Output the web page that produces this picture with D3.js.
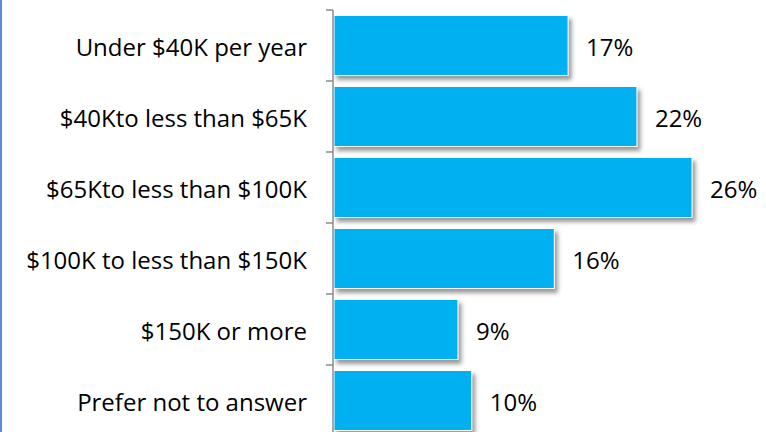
<!DOCTYPE html>
<html lang="en">
<head>
    <meta charset="UTF-8">
    <title>Income</title>
    <style>
        body { margin: 0; background: #fff; }
        text { font-family: "Open Sans", "Noto Sans", sans-serif; }
    </style>
</head>
<body>
    <script src="https://d3js.org/d3.v7.min.js"></script>
    <div id="my_dataviz"></div>
    <script>

        // Data
        var categories = ["Under $40K per year", "$40Kto less than $65K", "$65Kto less than $100K",
            "$100K to less than $150K", "$150K or more", "Prefer not to answer"]
        var values = [17, 22, 26, 16, 9, 10]

        var width = 766
        var height = 432

        var svg = d3.select("#my_dataviz")
            .append("svg")
            .attr("width", width)
            .attr("height", height)

        // shadow under the bars
        var defs = svg.append("defs")
        defs.append("filter")
            .attr("id", "shadow")
            .attr("x", "-10%").attr("y", "-10%")
            .attr("width", "130%").attr("height", "140%")
            .append("feDropShadow")
            .attr("dx", 3)
            .attr("dy", 4)
            .attr("stdDeviation", 2)
            .attr("flood-color", "#555")
            .attr("flood-opacity", 0.6)

        // blue border on the left
        svg.append("line")
            .attr("x1", 1).attr("x2", 1)
            .attr("y1", 0).attr("y2", height)
            .attr("stroke", "#5b8bd6")
            .attr("stroke-width", 2)

        var x = d3.scaleLinear()
            .domain([0, 26])
            .range([334, 692])

        var y = d3.scaleBand()
            .domain(categories)
            .range([10, 436])
            .paddingInner(0.155)
            .paddingOuter(0.0775)

        // bars
        svg.append("g")
            .selectAll("rect")
            .data(values)
            .enter()
            .append("rect")
            .attr("x", x(0))
            .attr("y", function (d, i) { return y(categories[i]) })
            .attr("width", function (d) { return x(d) - x(0) })
            .attr("height", y.bandwidth())
            .attr("fill", "#00b0f0")
            .attr("stroke", "#fff")
            .attr("stroke-width", 1)
            .attr("filter", "url(#shadow)")

        // axis with ticks between categories
        var bounds = d3.range(categories.length + 1).map(function (i) {
            return y.range()[0] + i * y.step()
        })
        var axis = svg.append("g")
        axis.append("line")
            .attr("x1", 333).attr("x2", 333)
            .attr("y1", bounds[0]).attr("y2", height)
            .attr("stroke", "#8c8c8c")
            .attr("stroke-width", 1.5)
        axis.selectAll("tick")
            .data(bounds)
            .enter()
            .append("line")
            .attr("x1", 326).attr("x2", 333)
            .attr("y1", function (d) { return d })
            .attr("y2", function (d) { return d })
            .attr("stroke", "#8c8c8c")
            .attr("stroke-width", 1.5)

        // category labels
        svg.append("g")
            .selectAll("text")
            .data(categories)
            .enter()
            .append("text")
            .attr("x", 307)
            .attr("y", function (d) { return y(d) + y.bandwidth() / 2 + 1 })
            .attr("text-anchor", "end")
            .attr("dominant-baseline", "central")
            .style("font-size", "24px")
            .style("fill", "#000")
            .text(function (d) { return d })

        // value labels
        svg.append("g")
            .selectAll("text")
            .data(values)
            .enter()
            .append("text")
            .attr("x", function (d) { return x(d) + 18 })
            .attr("y", function (d, i) { return y(categories[i]) + y.bandwidth() / 2 + 1 })
            .attr("dominant-baseline", "central")
            .style("font-size", "24px")
            .style("fill", "#000")
            .text(function (d) { return d + "%" })

    </script>
</body>
</html>
